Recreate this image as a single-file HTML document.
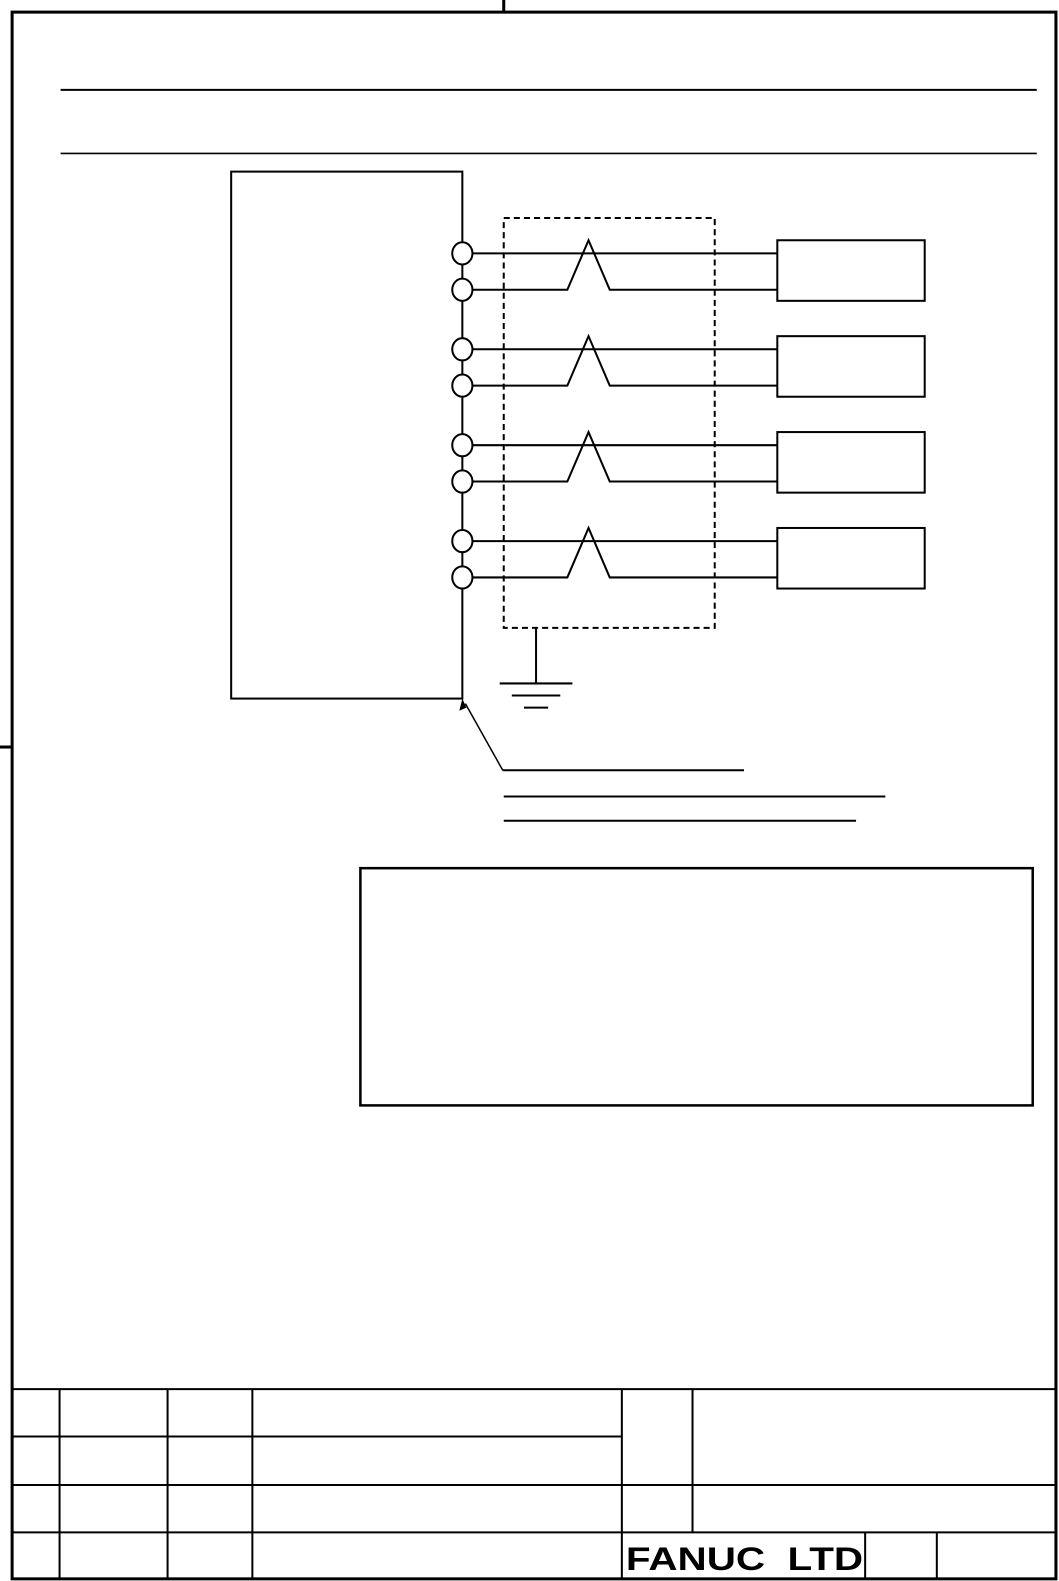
<!DOCTYPE html>
<html><head><style>html,body{margin:0;padding:0;background:#fff;overflow:hidden;width:1059px;height:1581px}svg{display:block}</style></head>
<body>
<svg width="1059" height="1581" viewBox="0 0 1059 1581" xmlns="http://www.w3.org/2000/svg" fill="none" stroke="#000">
<g transform="scale(1.0095)">
<rect x="12" y="12" width="1034" height="1552" stroke-width="3"/>
<line x1="499" y1="0" x2="499" y2="12" stroke-width="3"/>
<line x1="0" y1="740" x2="12" y2="740" stroke-width="3"/>
<line x1="60" y1="89" x2="1027" y2="89" stroke-width="2"/>
<line x1="60" y1="152" x2="1027" y2="152" stroke-width="1.5"/>
<rect x="229" y="170" width="229" height="522" stroke-width="2"/>
<rect x="499" y="216" width="209" height="406" stroke-width="2" stroke-dasharray="6,4"/>
<g stroke-width="2">
<g id="p"><ellipse cx="458" cy="251" rx="10" ry="11" fill="#fff"/><ellipse cx="458" cy="287" rx="10" ry="11" fill="#fff"/>
<line x1="468" y1="251" x2="770" y2="251"/><polyline points="468,287 562,287 583,238 604,287 770,287"/>
<rect x="770" y="238" width="146" height="60"/></g>
<use href="#p" transform="translate(0,95)"/>
<use href="#p" transform="translate(0,190)"/>
<use href="#p" transform="translate(0,285)"/>
<line x1="531" y1="622" x2="531" y2="677"/>
<line x1="495" y1="677" x2="567" y2="677"/>
<line x1="507" y1="689" x2="555" y2="689"/>
<line x1="519" y1="701" x2="543" y2="701"/>
<line x1="498" y1="763" x2="461" y2="697" stroke-width="1.5"/>
<line x1="498" y1="763" x2="737" y2="763"/>
<line x1="499" y1="789" x2="877" y2="789"/>
<line x1="499" y1="813" x2="848" y2="813"/>
<rect x="357" y="860" width="666" height="235" stroke-width="2.5"/>
</g>
<polygon points="458,692 455,704 462,701" fill="#000" stroke="none"/>
<g stroke-width="2">
<line x1="12" y1="1376" x2="1046" y2="1376"/>
<line x1="12" y1="1423" x2="616" y2="1423"/>
<line x1="12" y1="1471" x2="1046" y2="1471"/>
<line x1="12" y1="1518" x2="1046" y2="1518"/>
<line x1="59" y1="1376" x2="59" y2="1564"/>
<line x1="166" y1="1376" x2="166" y2="1564"/>
<line x1="250" y1="1376" x2="250" y2="1564"/>
<line x1="616" y1="1376" x2="616" y2="1564"/>
<line x1="686" y1="1376" x2="686" y2="1518"/>
<line x1="857" y1="1518" x2="857" y2="1564"/>
<line x1="928" y1="1518" x2="928" y2="1564"/>
</g>
<text x="620" y="1555" font-family="Liberation Sans, sans-serif" font-weight="bold" font-size="32" fill="#000" stroke="none" textLength="235" lengthAdjust="spacingAndGlyphs">FANUC&#160;&#160;LTD</text>
</g>
</svg>
</body></html>
